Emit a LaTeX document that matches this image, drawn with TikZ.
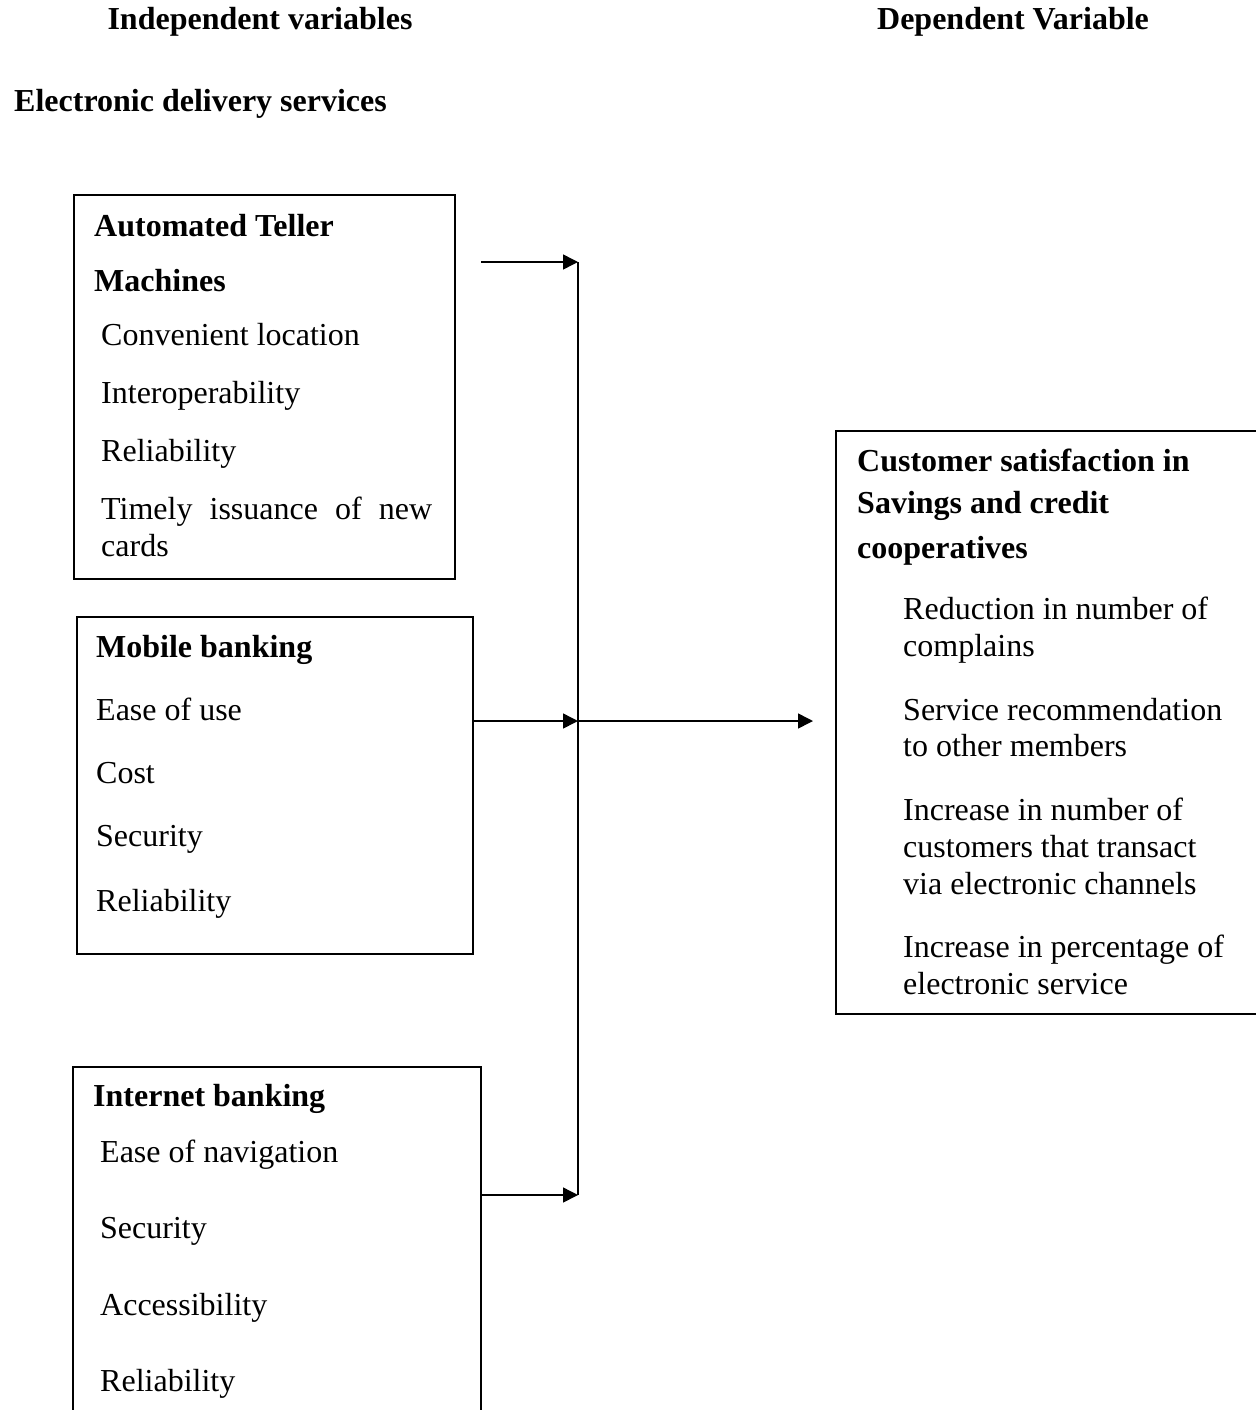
\documentclass[tikz,border=0pt]{standalone}
\usepackage{fontspec}
\setmainfont{Liberation Serif}
\usetikzlibrary{arrows.meta,positioning}

\newcommand\bodysize{\fontsize{32}{38}\selectfont}
\tikzset{
  txt/.style={anchor=base west,inner sep=0pt,font=\bodysize},
  hd/.style={txt,font=\bodysize\bfseries},
  box/.style={draw,line width=1.5pt,anchor=north west,inner sep=0pt},
  link/.style={line width=1.5pt,-{Triangle[length=15pt,width=15pt]}}
}

\begin{document}
\begin{tikzpicture}[x=1pt,y=1pt]
  \useasboundingbox (0,0) rectangle (1255,-1410);

  %% Column titles
  \node[font=\bodysize\bfseries,inner sep=0pt] (indep) at (260,-22) {Independent variables};
  \node[font=\bodysize\bfseries,inner sep=0pt] (dep) at (1013,-22) {Dependent Variable};
  \node[hd] (eds) at (14,-112) {Electronic delivery services};

  %% ATM box
  \node[box,minimum width=381pt,minimum height=384pt] (atm) at (73,-194) {};
  \node[hd] (atmh1) at (94,-236) {Automated Teller};
  \node[hd] (atmh2) at (94,-291) {Machines};
  \node[txt] (atm1) at (101,-345) {Convenient location};
  \node[txt] (atm2) at (101,-403) {Interoperability};
  \node[txt] (atm3) at (101,-461) {Reliability};
  \node[txt] (atm4) at (101,-519) {\makebox[331pt][s]{Timely issuance of new}};
  \node[txt] (atm5) at (101,-556) {cards};

  %% Mobile banking box
  \node[box,minimum width=396pt,minimum height=337pt] (mob) at (76,-616) {};
  \node[hd] (mobh) at (96,-657) {Mobile banking};
  \node[txt] (mob1) at (96,-720) {Ease of use};
  \node[txt] (mob2) at (96,-783) {Cost};
  \node[txt] (mob3) at (96,-846) {Security};
  \node[txt] (mob4) at (96,-911) {Reliability};

  %% Internet banking box
  \node[box,minimum width=408pt,minimum height=360pt] (inet) at (72,-1066) {};
  \node[hd] (ineth) at (93,-1106) {Internet banking};
  \node[txt] (inet1) at (100,-1162) {Ease of navigation};
  \node[txt] (inet2) at (100,-1238) {Security};
  \node[txt] (inet3) at (100,-1315) {Accessibility};
  \node[txt] (inet4) at (100,-1391) {Reliability};

  %% Customer satisfaction box
  \node[box,minimum width=425pt,minimum height=583pt] (sat) at (835,-430) {};
  \node[hd] (sath1) at (857,-471) {Customer satisfaction in};
  \node[hd] (sath2) at (857,-513) {Savings and credit};
  \node[hd] (sath3) at (857,-558) {cooperatives};
  \node[txt] (sat1) at (903,-619) {Reduction in number of};
  \node[txt] (sat1b) at (903,-656) {complains};
  \node[txt] (sat2) at (903,-720) {Service recommendation};
  \node[txt] (sat2b) at (903,-756) {to other members};
  \node[txt] (sat3) at (903,-820) {Increase in number of};
  \node[txt] (sat3b) at (903,-857) {customers that transact};
  \node[txt] (sat3c) at (903,-894) {via electronic channels};
  \node[txt] (sat4) at (903,-957) {Increase in percentage of};
  \node[txt] (sat4b) at (903,-994) {electronic service};

  %% Connectors
  \coordinate (atmout) at (481,-262);
  \coordinate (jtop) at (578,-262);
  \coordinate (jmid) at (578,-721);
  \coordinate (jbot) at (578,-1195);
  \coordinate (satin) at (813,-721);
  \draw[line width=1.5pt] (jtop) -- (jbot);
  \draw[link] (atmout) -- (jtop);
  \draw[link] (mob.east |- jmid) -- (jmid);
  \draw[link] (inet.east |- jbot) -- (jbot);
  \draw[link] (jmid) -- (satin);
\end{tikzpicture}
\end{document}
